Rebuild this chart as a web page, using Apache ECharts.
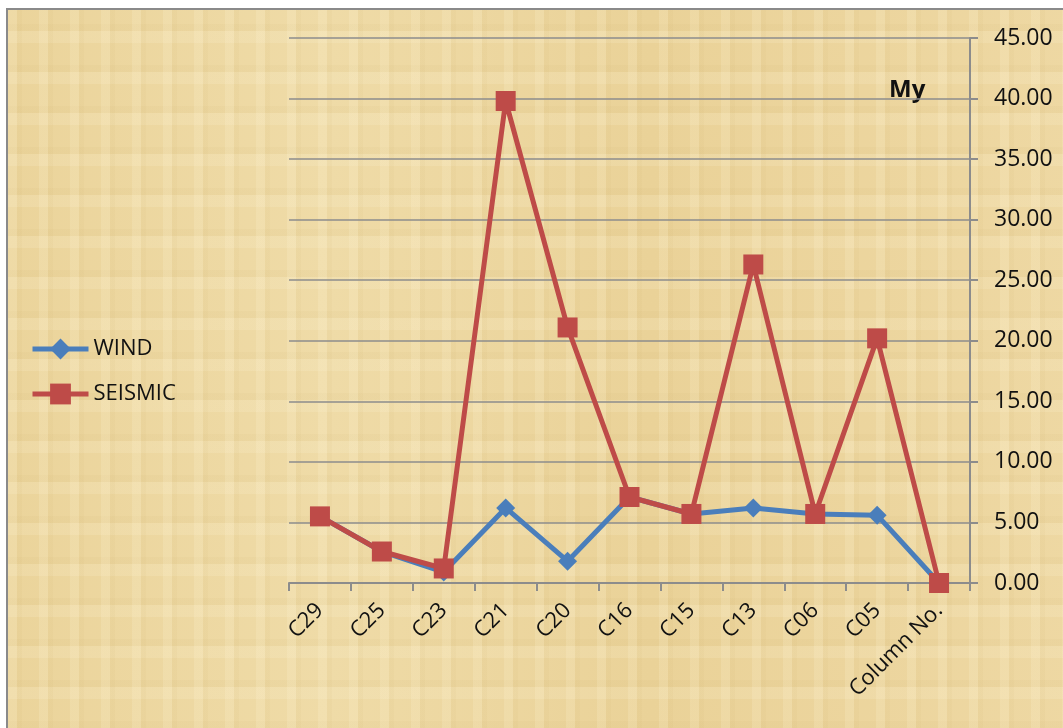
<!DOCTYPE html>
<html>
<head>
<meta charset="utf-8">
<script src="https://cdn.jsdelivr.net/npm/echarts@6/dist/echarts.min.js"></script>
<style>
	html, body {
		margin: 0;
		padding: 0;
		width: 1063px;
		height: 728px;
		background: #ffffff;
		overflow: hidden;
	}
	.paper {
		position: absolute;
		left: 6px;
		top: 8px;
		width: 1070px;
		height: 730px;
		border-left: 2px solid #8a8a8a;
		border-top: 2px solid #8a8a8a;
		background-color: #edd7a0;
		background-image:
			repeating-linear-gradient(90deg, rgba(255,246,215,0.18) 0px, rgba(255,246,215,0.18) 9px, rgba(200,170,100,0.07) 9px, rgba(200,170,100,0.07) 14px, rgba(255,240,200,0) 14px, rgba(255,240,200,0) 31px),
			repeating-linear-gradient(0deg, rgba(255,248,222,0.15) 0px, rgba(255,248,222,0.15) 12px, rgba(190,160,90,0.06) 12px, rgba(190,160,90,0.06) 19px, rgba(255,240,200,0) 19px, rgba(255,240,200,0) 41px),
			linear-gradient(90deg, #ebd49b 0%, #efdba7 30%, #ead298 60%, #eed8a3 100%);
	}
	#chart {
		position: absolute;
		left: 0;
		top: 0;
		width: 1063px;
		height: 728px;
	}
</style>
</head>
<body>
<div class="paper"></div>
<div id="chart"></div>
<script>
	// data
	var columns = ['C29', 'C25', 'C23', 'C21', 'C20', 'C16', 'C15', 'C13', 'C06', 'C05', 'Column No.'];
	var windValues = [5.5, 2.6, 0.9, 6.2, 1.8, 7.1, 5.7, 6.2, 5.7, 5.6, 0];
	var seismicValues = [5.5, 2.6, 1.2, 39.8, 21.1, 7.1, 5.7, 26.3, 5.7, 20.2, 0];
	var yTicks = { min: 0, max: 45, interval: 5 };

	var font = 'Open Sans';
	var chart = echarts.init(document.getElementById('chart'), null, { renderer: 'canvas' });

	var option = {
		backgroundColor: 'transparent',
		animation: false,
		grid: {
			left: 289,
			right: 93,
			top: 38,
			bottom: 145,
			containLabel: false
		},
		legend: {
			orient: 'vertical',
			left: 25,
			top: 333,
			itemWidth: 56,
			itemHeight: 26,
			itemGap: 23,
			itemStyle: { borderWidth: 0 },
			lineStyle: { width: 5 },
			textStyle: {
				fontFamily: font,
				fontSize: 22,
				color: '#111111',
				padding: [0, 0, 0, 0]
			},
			data: ['WIND', 'SEISMIC']
		},
		graphic: [{
			type: 'text',
			left: 889,
			top: 78,
			style: {
				text: 'My',
				font: 'bold 24px "Open Sans"',
				fill: '#111111'
			}
		}],
		xAxis: {
			type: 'category',
			data: columns,
			boundaryGap: true,
			axisLine: { show: true, lineStyle: { color: '#8c8c8c', width: 2 } },
			axisTick: { show: true, length: 8, alignWithLabel: false, lineStyle: { color: '#8c8c8c', width: 2 } },
			axisLabel: {
				rotate: 45,
				interval: 0,
				margin: 24,
				fontFamily: font,
				fontSize: 22,
				color: '#111111'
			},
			splitLine: { show: false }
		},
		yAxis: {
			type: 'value',
			position: 'right',
			min: yTicks.min,
			max: yTicks.max,
			interval: yTicks.interval,
			axisLine: { show: true, lineStyle: { color: '#8c8c8c', width: 2 } },
			axisTick: { show: true, length: 8, inside: false, lineStyle: { color: '#8c8c8c', width: 2 } },
			axisLabel: {
				margin: 24,
				fontFamily: font,
				fontSize: 23,
				color: '#111111',
				formatter: function (v) { return v.toFixed(2); }
			},
			splitLine: { show: true, lineStyle: { color: '#8c8c8c', width: 1.5 } }
		},
		series: [{
			name: 'WIND',
			type: 'line',
			data: windValues,
			symbol: 'diamond',
			symbolSize: 19,
			lineStyle: { color: '#4a7ebb', width: 5 },
			itemStyle: { color: '#4a7ebb' },
			z: 2
		}, {
			name: 'SEISMIC',
			type: 'line',
			data: seismicValues,
			symbol: 'rect',
			symbolSize: 20,
			lineStyle: { color: '#be4b48', width: 5 },
			itemStyle: { color: '#be4b48' },
			z: 3
		}]
	};

	chart.setOption(option);
</script>
</body>
</html>
